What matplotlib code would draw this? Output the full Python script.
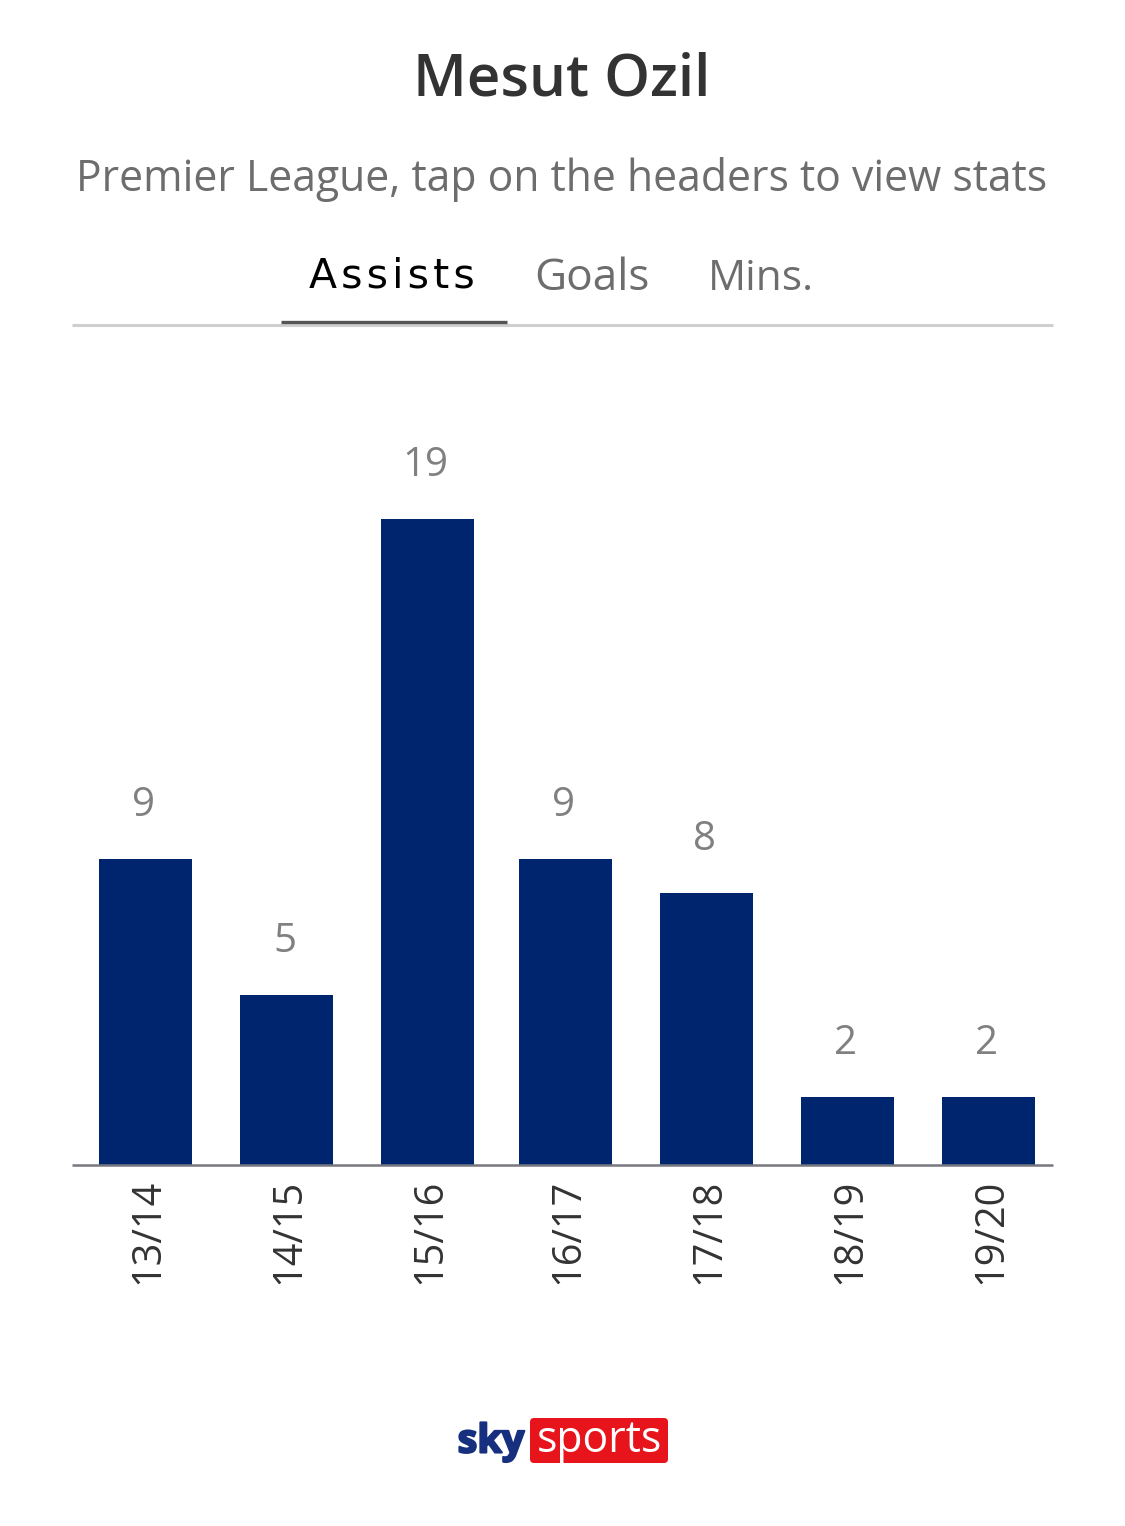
'''
Mesut Ozil assists per Premier League season
'''
import numpy as np
import matplotlib as mpl
mpl.use('Agg')
import matplotlib.pyplot as plt
import matplotlib.patheffects as PE
from matplotlib.patches import FancyBboxPatch
mpl.rcParams['font.family'] = ['Open Sans', 'DejaVu Sans']

seasons = ['13/14', '14/15', '15/16', '16/17', '17/18', '18/19', '19/20']
assists = [9, 5, 19, 9, 8, 2, 2]
bar_left = [99, 240, 381, 519, 660, 801, 942]  # px
tabs = ['Assists', 'Goals', 'Mins.']

W, H = 1125, 1526
navy = '#00256f'
grey = '#6d6d6d'

fig = plt.figure(figsize=(W/100., H/100.), dpi=100, facecolor='white')
# overlay in pixel coords for the header and logo
bkgd = fig.add_axes([0, 0, 1, 1])
bkgd.set_xlim([0, W])
bkgd.set_ylim([H, 0])
bkgd.axis('off')

bkgd.text(562, 81, 'Mesut Ozil', fontsize=42, fontweight='semibold', color='#333333', ha='center', va='center')
bkgd.text(562, 180, 'Premier League, tap on the headers to view stats', fontsize=30.8, color=grey, ha='center', va='center')
# hair spaces for the wider tracking of the selected tab
bkgd.text(392, 277, '\u200a'.join(tabs[0]), fontsize=29.5, color='black', ha='center', va='center', family='DejaVu Sans')
bkgd.text(592, 279, tabs[1], fontsize=31.8, color=grey, ha='center', va='center')
bkgd.text(761, 279, tabs[2], fontsize=30.5, color=grey, ha='center', va='center')
bkgd.plot([72, 1053], [324.5, 324.5], c='#cfcfcf', lw=2.2, solid_capstyle='butt')
bkgd.plot([281, 507], [322, 322], c='#555555', lw=2.4, solid_capstyle='butt')

# bars: axis spans 72-1053 px wide, baseline at 1165 px, 1 assist = 34 px
sub = fig.add_axes([72./W, 1.-1165./H, 981./W, 800./H])
sub.set_xlim([72, 1053])
sub.set_ylim([0, 800/34.])
sub.bar(bar_left, assists, width=93, align='edge', color=navy)
for x, v, s in zip(bar_left, assists, seasons):
    sub.annotate(str(v), (x+46, v), xytext=(-1.5, 53), textcoords='offset pixels', fontsize=29, color='#808080', ha='center', va='center')
    sub.annotate(s, (x+46, 0), xytext=(3, -14), textcoords='offset pixels', fontsize=28.5, color='#333333', rotation=90, ha='center', va='top')
for sp in ['top', 'left', 'right']:
    sub.spines[sp].set_visible(False)
sub.spines['bottom'].set_color('#77777f')
sub.spines['bottom'].set_linewidth(1.8)
sub.spines['bottom'].set_capstyle('butt')
sub.set_xticks([])
sub.set_yticks([])
sub.patch.set_alpha(0)

# sky sports logo
bkgd.text(491, 1442, 'sky', fontsize=28.5, fontweight='bold', color='#16307f', ha='center', va='center',
        path_effects=[PE.withStroke(linewidth=1.5, foreground='#16307f')])
bkgd.add_patch(FancyBboxPatch((530, 1418), 138, 45, boxstyle='round,pad=0,rounding_size=4', fc='#e8141c', ec='none'))
bkgd.text(599, 1441, 'sports', fontsize=30.8, color='white', ha='center', va='center')

fig.savefig('out.png', dpi=100)
plt.close()
